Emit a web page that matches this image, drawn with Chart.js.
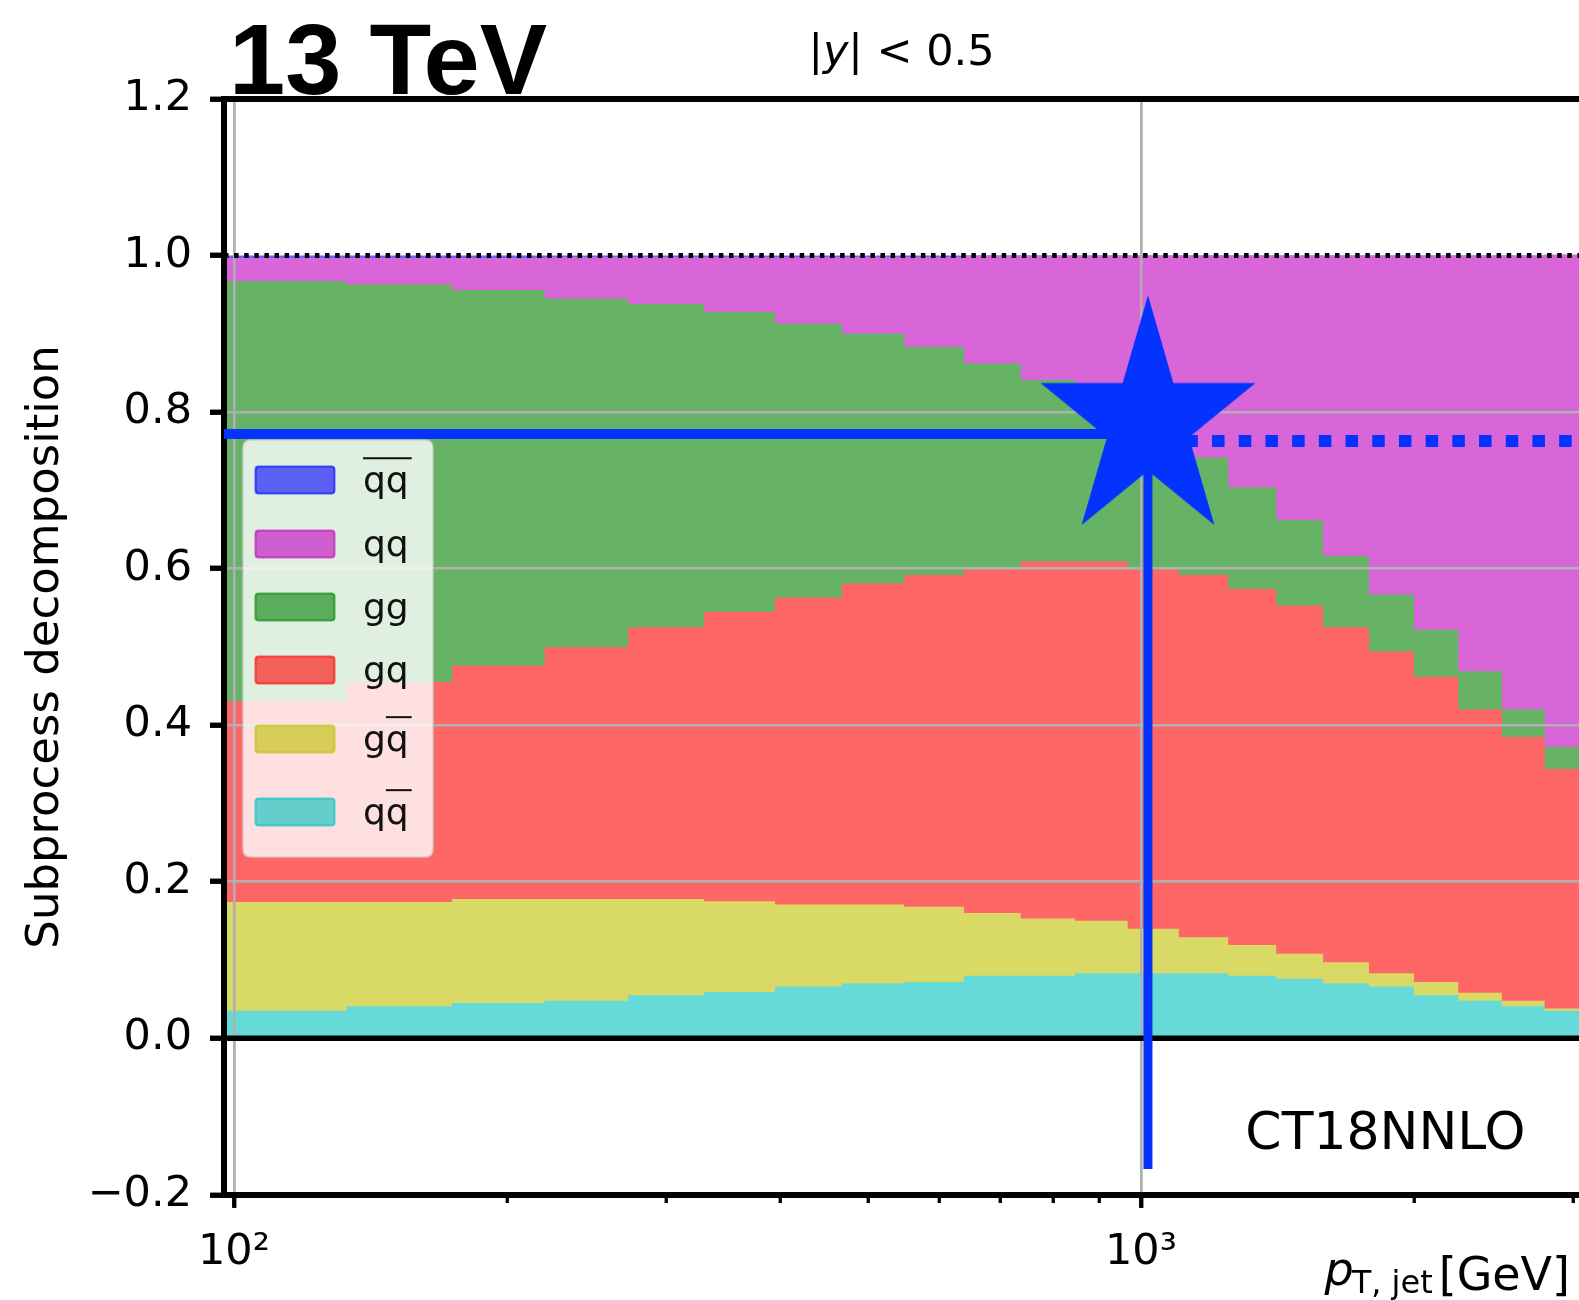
<!DOCTYPE html>
<html>
<head>
<meta charset="utf-8">
<script src="https://cdn.jsdelivr.net/npm/chart.js@4.4.1/dist/chart.umd.min.js"></script>
<style>
html, body { margin: 0; padding: 0; background: #ffffff; }
canvas { display: block; }
</style>
</head>
<body>
<canvas id="c" width="1579" height="1300"></canvas>
<script>
// ---------------- data ----------------
// pT,jet bin edges [GeV]
const ptEdges = [97, 133, 174, 220, 272, 330, 395, 468, 548, 638, 737, 846, 967, 1101, 1248, 1410, 1588, 1784, 2000, 2238, 2500, 2787, 3103];

// subprocess fractions per bin (stacked bottom -> top)
const qqbar    = [0.035, 0.041, 0.045, 0.048, 0.055, 0.059, 0.066, 0.070, 0.072, 0.080, 0.080, 0.083, 0.083, 0.083, 0.080, 0.076, 0.070, 0.066, 0.055, 0.048, 0.041, 0.035];
const gqbar    = [0.139, 0.133, 0.133, 0.130, 0.123, 0.116, 0.105, 0.101, 0.096, 0.080, 0.073, 0.067, 0.057, 0.046, 0.039, 0.032, 0.027, 0.017, 0.017, 0.010, 0.007, 0.003];
const gq       = [0.257, 0.281, 0.298, 0.322, 0.347, 0.370, 0.392, 0.410, 0.424, 0.439, 0.456, 0.459, 0.459, 0.463, 0.455, 0.445, 0.428, 0.411, 0.390, 0.362, 0.337, 0.306];
const gg       = [0.536, 0.508, 0.480, 0.445, 0.413, 0.383, 0.350, 0.319, 0.291, 0.263, 0.232, 0.206, 0.181, 0.150, 0.130, 0.109, 0.091, 0.073, 0.060, 0.049, 0.035, 0.028];
const qq       = [0.030, 0.034, 0.041, 0.053, 0.060, 0.070, 0.085, 0.098, 0.115, 0.138, 0.159, 0.185, 0.220, 0.258, 0.296, 0.338, 0.384, 0.433, 0.478, 0.531, 0.580, 0.629];
const qbarqbar = [0.003, 0.003, 0.003, 0.002, 0.002, 0.002, 0.002, 0.002, 0.002, 0, 0, 0, 0, 0, 0, 0, 0, 0, 0, 0, 0, 0];

// labels (stack order, bottom -> top); U+0305 = overline on the preceding letter
const seriesLabels = ['qq\u0305', 'gq\u0305', 'gq', 'gg', 'qq', 'q\u0305q\u0305'];
const seriesValues = [qqbar, gqbar, gq, gg, qq, qbarqbar];
// matplotlib base colours c, y, r, g, m, b (drawn at alpha 0.6)
const seriesRGB = [[0, 191, 191], [191, 191, 0], [255, 0, 0], [0, 128, 0], [191, 0, 191], [0, 0, 255]];

// axes
const xMin = 97.5, xMax = 3041;
const yMin = -0.2, yMax = 1.2, yStep = 0.2;
const xTickValues = [100, 200, 300, 400, 500, 600, 700, 800, 900, 1000, 2000, 3000];
const xTickLabels = {100: '10\u00B2', 1000: '10\u00B3'};

// annotations
const markerPt = 1018, markerY = 0.787;
const hLineY = 0.772, dotLineY = 0.763, vLineBottom = -0.167;
const ctLabel = 'CT18NNLO', ctX = 1860, ctY = -0.142;

// ---------------- helpers ----------------
const alphaOnWhite = (rgb, a) => 'rgb(' + rgb.map(v => Math.round(a * v + (1 - a) * 255)).join(',') + ')';
const rgba = (rgb, a) => 'rgba(' + rgb.join(',') + ',' + a + ')';

function stepData(vals) {
  return ptEdges.map((e, i) => ({x: e, y: vals[Math.min(i, vals.length - 1)]}));
}

function makeStar(rx, ry, color) {
  const c = document.createElement('canvas');
  c.width = Math.ceil(2 * rx); c.height = Math.ceil(2 * ry);
  const g = c.getContext('2d');
  g.fillStyle = color;
  g.beginPath();
  for (let k = 0; k < 10; k++) {
    const ang = -Math.PI / 2 + k * Math.PI / 5;
    const r = (k % 2) ? 0.382 : 1;
    g.lineTo(c.width / 2 + r * rx * Math.cos(ang), c.height / 2 + r * ry * Math.sin(ang));
  }
  g.closePath(); g.fill();
  return c;
}

const BLUE = '#0433ff';
const starImg = makeStar(113, 127, BLUE);

// ---------------- datasets ----------------
const datasets = [];
seriesValues.forEach((vals, i) => {
  datasets.push({
    type: 'line', label: seriesLabels[i], data: stepData(vals), xAxisID: 'x', yAxisID: 'y',
    stack: 'sub', order: 10, stepped: 'before', fill: 'origin',
    backgroundColor: alphaOnWhite(seriesRGB[i], 0.6), borderColor: 'rgba(0,0,0,0)', borderWidth: 0,
    pointRadius: 0
  });
});
const annot = (cfg) => Object.assign({type: 'line', xAxisID: 'x', yAxisID: 'y', order: 0, fill: false,
  pointRadius: 0, borderCapStyle: 'butt', tension: 0, clip: 0}, cfg);
// index 6: star (drawn last)
datasets.push(annot({label: 'marker', stack: 'a0', data: [{x: markerPt, y: markerY}], showLine: false,
  pointStyle: starImg, pointRadius: 20, clip: false}));
datasets.push(annot({label: 'vline', stack: 'a1', data: [{x: markerPt, y: markerY}, {x: markerPt, y: vLineBottom}],
  borderColor: BLUE, borderWidth: 9}));
datasets.push(annot({label: 'hline', stack: 'a2', data: [{x: xMin, y: hLineY}, {x: markerPt, y: hLineY}],
  borderColor: BLUE, borderWidth: 10}));
datasets.push(annot({label: 'hdots', stack: 'a3', data: [{x: markerPt, y: dotLineY}, {x: xMax, y: dotLineY}],
  borderColor: BLUE, borderWidth: 12, borderDash: [12.5, 14.2], borderDashOffset: 16}));
datasets.push(annot({label: 'zero', stack: 'a4', data: [{x: xMin, y: 0}, {x: xMax, y: 0}],
  borderColor: '#000', borderWidth: 5.5}));
datasets.push(annot({label: 'one', stack: 'a5', data: [{x: xMin, y: 1}, {x: xMax, y: 1}],
  borderColor: '#000', borderWidth: 5, borderDash: [4.5, 5.6]}));

// ---------------- plugins ----------------
const gridOnTop = {
  id: 'gridOnTop',
  afterDatasetDraw(chart, args) {
    if (args.index !== 0) return;   // last fill drawn
    const a = chart.chartArea;
    chart.scales.x.drawGrid(a);
    chart.scales.y.drawGrid(a);
    ['x', 'y', 'xTop'].forEach(id => { const s = chart.scales[id]; if (s && s.drawBorder) s.drawBorder(); });
  }
};

function drawOverlined(ctx, text, x, y, size) {
  const chars = [];
  for (const ch of text) {
    if (ch === '\u0305') { if (chars.length) chars[chars.length - 1].over = true; }
    else chars.push({ch: ch, over: false});
  }
  ctx.fillText(chars.map(c => c.ch).join(''), x, y);
  let cx = x, s = null, e = null;
  const segs = [];
  chars.forEach(c => {
    const w = ctx.measureText(c.ch).width;
    if (c.over) { if (s === null) s = cx; e = cx + w; }
    else if (s !== null) { segs.push([s, e]); s = null; }
    cx += w;
  });
  if (s !== null) segs.push([s, e]);
  ctx.save();
  ctx.strokeStyle = '#111'; ctx.lineWidth = 2;
  segs.forEach(([a, b]) => { ctx.beginPath(); ctx.moveTo(a, y - 0.94 * size); ctx.lineTo(b + 3, y - 0.94 * size); ctx.stroke(); });
  ctx.restore();
}

function roundRectPath(ctx, x, y, w, h, r) {
  ctx.beginPath();
  ctx.moveTo(x + r, y); ctx.lineTo(x + w - r, y); ctx.quadraticCurveTo(x + w, y, x + w, y + r);
  ctx.lineTo(x + w, y + h - r); ctx.quadraticCurveTo(x + w, y + h, x + w - r, y + h);
  ctx.lineTo(x + r, y + h); ctx.quadraticCurveTo(x, y + h, x, y + h - r);
  ctx.lineTo(x, y + r); ctx.quadraticCurveTo(x, y, x + r, y);
  ctx.closePath();
}

const decorations = {
  id: 'decorations',
  afterDraw(chart) {
    const ctx = chart.ctx, a = chart.chartArea;
    const xs = chart.scales.x, ys = chart.scales.y;
    ctx.save();
    ctx.fillStyle = '#000'; ctx.textBaseline = 'alphabetic';

    // legend
    const L = a.left + 19, T = a.top + 341, W = 190, H = 417;
    roundRectPath(ctx, L, T, W, H, 8);
    ctx.fillStyle = 'rgba(255,255,255,0.8)'; ctx.fill();
    ctx.strokeStyle = 'rgba(204,204,204,0.8)'; ctx.lineWidth = 1.5; ctx.stroke();
    const rowCenters = [40, 104, 167, 230, 299, 372];
    const legendOrder = [5, 4, 3, 2, 1, 0];
    ctx.font = '36px "DejaVu Sans"';
    legendOrder.forEach((di, r) => {
      const cy = T + rowCenters[r];
      const ds = chart.data.datasets[di];
      roundRectPath(ctx, L + 12.5, cy - 13.5, 79, 27, 3);
      ctx.fillStyle = rgba(seriesRGB[di], 0.6); ctx.fill();
      ctx.strokeStyle = rgba(seriesRGB[di], 0.6); ctx.lineWidth = 2; ctx.stroke();
      ctx.fillStyle = '#111'; ctx.textAlign = 'left';
      drawOverlined(ctx, ds.label, L + 120, cy + 12, 36);
    });

    // 13 TeV
    ctx.fillStyle = '#000'; ctx.textAlign = 'left';
    ctx.font = 'bold 101px "Liberation Sans"';
    ctx.fillText('13 TeV', a.left + 5, a.top - 5);

    // |y| < 0.5 (axes title)
    const parts = [['|', '43px "DejaVu Sans"'], ['y', 'oblique 43px "DejaVu Sans"'], ['| < 0.5', '43px "DejaVu Sans"']];
    let tw = 0;
    parts.forEach(p => { ctx.font = p[1]; tw += ctx.measureText(p[0]).width; });
    let tx = (a.left + a.right) / 2 - tw / 2;
    parts.forEach(p => { ctx.font = p[1]; ctx.fillText(p[0], tx, a.top - 34); tx += ctx.measureText(p[0]).width; });

    // CT18NNLO
    ctx.font = '52px "DejaVu Sans"'; ctx.textAlign = 'center';
    ctx.fillText(ctLabel, xs.getPixelForValue(ctX), ys.getPixelForValue(ctY));

    // x-axis label  p_{T, jet} [GeV]
    ctx.textAlign = 'left';
    const R = a.right - 9;
    ctx.font = '46px "DejaVu Sans"';
    const xG = R - ctx.measureText('[GeV]').width;
    ctx.fillText('[GeV]', xG, a.bottom + 95);
    ctx.font = '32px "DejaVu Sans"';
    const xS = xG - 6 - ctx.measureText('T, jet').width;
    ctx.fillText('T, jet', xS, a.bottom + 98);
    ctx.font = 'oblique 46px "DejaVu Sans"';
    ctx.fillText('p', xS - ctx.measureText('p').width + 2, a.bottom + 90);
    ctx.restore();
  }
};

// ---------------- chart ----------------
Chart.defaults.font.family = '"DejaVu Sans"';
const isMajorX = v => Object.prototype.hasOwnProperty.call(xTickLabels, v);
const fmtY = v => { const r = Math.round(v * 10) / 10; return (r < 0 ? '\u2212' : '') + Math.abs(r).toFixed(1); };
const hiddenY = v => { const r = Math.round(v * 10) / 10; return r === 0 || r === 1 || r === -0.2 || r === 1.2; };

new Chart(document.getElementById('c'), {
  type: 'line',
  data: {datasets: datasets},
  options: {
    responsive: false, animation: false, events: [],
    layout: {autoPadding: false, padding: {top: 99, left: 0, right: 0, bottom: 0}},
    plugins: {legend: {display: false}, tooltip: {enabled: false}, title: {display: false}},
    scales: {
      x: {
        type: 'logarithmic', position: 'bottom', min: xMin, max: xMax,
        afterBuildTicks: s => { s.ticks = xTickValues.map(v => ({value: v, major: isMajorX(v)})); },
        afterFit: s => { s.height = 105.2; s.paddingLeft = 0; s.paddingRight = 0; },
        ticks: {autoSkip: false, maxRotation: 0, minRotation: 0, padding: 19, color: '#000', font: {size: 43},
          callback: v => xTickLabels[v] || ''},
        grid: {
          color: c => (c.tick && isMajorX(c.tick.value)) ? '#b0b0b0' : 'rgba(0,0,0,0)',
          lineWidth: 2.5, tickLength: 13, tickColor: '#000',
          tickWidth: c => (c.tick && isMajorX(c.tick.value)) ? 4 : 3,
          tickBorderDash: c => (c.tick && isMajorX(c.tick.value)) ? [] : [5, 100]
        },
        border: {color: '#000', width: 6}
      },
      xTop: {
        type: 'linear', position: 'top', min: 0, max: 1,
        ticks: {display: false}, grid: {display: false, drawTicks: false},
        border: {color: '#000', width: 6},
        afterFit: s => { s.height = 0; s.paddingLeft = 0; s.paddingRight = 0; }
      },
      y: {
        type: 'linear', position: 'left', stacked: true, min: yMin, max: yMax,
        afterFit: s => { s.width = 224; },
        ticks: {stepSize: yStep, padding: 18, color: '#000', font: {size: 43}, callback: v => fmtY(v)},
        grid: {
          color: c => (c.tick && !hiddenY(c.tick.value)) ? '#b0b0b0' : 'rgba(0,0,0,0)',
          lineWidth: 2.5, tickLength: 14, tickColor: '#000', tickWidth: 5
        },
        border: {color: '#000', width: 6},
        title: {display: true, text: 'Subprocess decomposition', color: '#000', font: {size: 45}, padding: {top: 19, bottom: 0}}
      }
    }
  },
  plugins: [gridOnTop, decorations]
});
</script>
</body>
</html>
